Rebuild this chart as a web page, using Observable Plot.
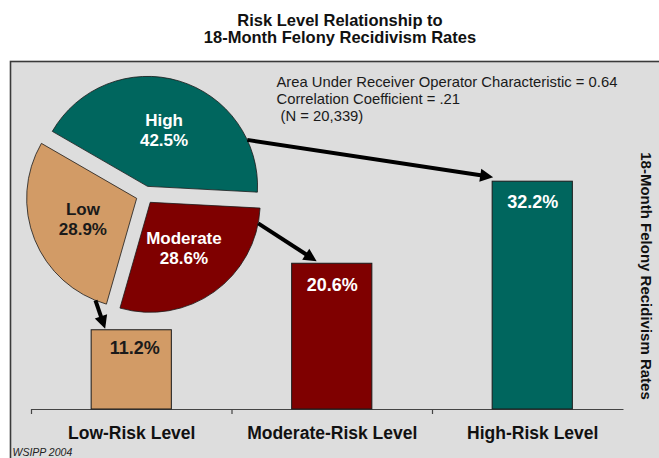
<!DOCTYPE html>
<html><head><meta charset="utf-8">
<script src="https://cdn.jsdelivr.net/npm/d3@7"></script>
<script src="https://cdn.jsdelivr.net/npm/@observablehq/plot@0.6"></script>
<style>
html,body{margin:0;padding:0;background:#fff;}
body{font-family:"Liberation Sans",Arial,Helvetica,sans-serif;width:659px;height:458px;overflow:hidden;}
#title{height:58px;box-sizing:border-box;padding-top:12px;padding-left:21px;text-align:center;font-weight:bold;font-size:16.5px;line-height:17px;color:#111;}
#chart svg{display:block;}
</style></head><body>
<div id="title"></div>
<div id="chart"></div>
<script>
// ---- data ----
const titleLines = ["Risk Level Relationship to", "18-Month Felony Recidivism Rates"];
const levels = ["Low", "Moderate", "High"];
const levelAxisLabels = ["Low-Risk Level", "Moderate-Risk Level", "High-Risk Level"];
const recidivismRates = [11.2, 20.6, 32.2];
const pieOrder = ["High", "Moderate", "Low"];
const pieShares = [42.5, 28.6, 28.9];
const levelColors = ["#d29b66", "#7f0000", "#00665e"];
const darkLabelLevels = ["Low"];
const noteLines = ["Area Under Receiver Operator Characteristic = 0.64", "Correlation Coefficient = .21", " (N = 20,339)"];
const yTitle = "18-Month Felony Recidivism Rates";
const sourceNote = "WSIPP 2004";
const xTicks = [0, 1, 2];

// ---- layout (not data) ----
const L = {
  width: 659, height: 400,
  marginLeft: 31, marginRight: 26.5, marginTop: 68, marginBottom: 49,
  barPad: 0.3,
  axisEnd: 2.955,
  pie: {cx: 145, cy: 137, r: 110, explode: 9, startDeg: -60, labelR: 58},
  arrows: {
    High: {fromDeg: 65, tipDx: 1, tipDy: -4},
    Moderate: {fromDeg: 101, tipDx: 25, tipDy: -2},
    Low: {fromDeg: 202, tipDx: 14, tipDy: -1}
  },
  head: {len: 13, half: 6.5}, arrowWidth: 4
};

document.getElementById("title").innerHTML = titleLines.join("<br>");

const bars = levels.map((level, i) => ({level, i, rate: recidivismRates[i], axisLabel: levelAxisLabels[i]}));
const slices = pieOrder.map((level, j) => ({level, share: pieShares[j]}));
const colorOf = lv => levelColors[levels.indexOf(lv)];
const rad = d => d * Math.PI / 180;

function pieAndArrows(index, scales) {
  const {x, y} = scales;
  const g = d3.create("svg:g");
  const P = L.pie;
  const pie = d3.pie().sort(null).value(d => d.share)
    .startAngle(rad(P.startDeg)).endAngle(rad(P.startDeg + 360));
  const arc = d3.arc().innerRadius(0).outerRadius(P.r);
  const apex = {};
  for (const a of pie(slices)) {
    const mid = (a.startAngle + a.endAngle) / 2;
    const ax = P.cx + Math.sin(mid) * P.explode, ay = P.cy - Math.cos(mid) * P.explode;
    apex[a.data.level] = [ax, ay];
    g.append("path").attr("transform", `translate(${ax},${ay})`).attr("d", arc(a))
      .attr("fill", colorOf(a.data.level)).attr("stroke", "#1a1a1a").attr("stroke-width", 0.8);
    const lx = ax + Math.sin(mid) * P.labelR, ly = ay - Math.cos(mid) * P.labelR;
    const t = g.append("text").attr("text-anchor", "middle").attr("font-size", 17).attr("font-weight", "bold")
      .attr("fill", darkLabelLevels.includes(a.data.level) ? "#1a1a1a" : "#fff");
    t.append("tspan").attr("x", lx).attr("y", ly - 11).attr("dy", "0.35em").text(a.data.level);
    t.append("tspan").attr("x", lx).attr("y", ly + 9).attr("dy", "0.35em").text(a.data.share.toFixed(1) + "%");
  }
  for (const b of bars) {
    const A = L.arrows[b.level];
    const [ax, ay] = apex[b.level];
    const th = rad(A.fromDeg);
    const p0 = [ax + Math.sin(th) * P.r, ay - Math.cos(th) * P.r];
    const p1 = [x(b.i + L.barPad) + A.tipDx, y(b.rate) + A.tipDy];
    const dx = p1[0] - p0[0], dy = p1[1] - p0[1], len = Math.hypot(dx, dy);
    const ux = dx / len, uy = dy / len, px = -uy, py = ux;
    const bx = p1[0] - ux * L.head.len, by = p1[1] - uy * L.head.len;
    g.append("line").attr("x1", p0[0]).attr("y1", p0[1]).attr("x2", bx + ux * 2).attr("y2", by + uy * 2)
      .attr("stroke", "#000").attr("stroke-width", L.arrowWidth);
    g.append("path").attr("d", `M${p1[0]},${p1[1]}L${bx + px * L.head.half},${by + py * L.head.half}L${bx - px * L.head.half},${by - py * L.head.half}Z`)
      .attr("fill", "#000");
  }
  return g.node();
}

const chart = Plot.plot({
  width: L.width, height: L.height,
  marginLeft: L.marginLeft, marginRight: L.marginRight, marginTop: L.marginTop, marginBottom: L.marginBottom,
  x: {domain: [0, 3], axis: null},
  y: {domain: [0, 40], axis: null},
  color: {domain: levels, range: levelColors},
  style: {fontFamily: '"Liberation Sans", Arial, Helvetica, sans-serif', background: "transparent", overflow: "visible"},
  marks: [
    Plot.frame({fill: "#dddddd", stroke: "#3a3a3a", strokeWidth: 1.6,
      insetLeft: -21, insetTop: -65, insetRight: -40, insetBottom: -60}),
    Plot.ruleY([0], {x1: 0, x2: L.axisEnd, stroke: "#444", strokeWidth: 1.2}),
    Plot.axisX({ticks: xTicks, tickFormat: () => "", tickSize: 5, stroke: "#444", strokeWidth: 1.2}),
    Plot.rectY(bars, {x1: d => d.i + L.barPad, x2: d => d.i + 1 - L.barPad, y1: 0, y2: "rate",
      fill: "level", stroke: "#1a1a1a", strokeWidth: 1}),
    Plot.text(bars, {filter: d => darkLabelLevels.includes(d.level), x: d => d.i + 0.5, y: "rate",
      text: d => d.rate.toFixed(1) + "%", dy: 18, dx: 3, fill: "#1a1a1a", fontSize: 18, fontWeight: "bold"}),
    Plot.text(bars, {filter: d => !darkLabelLevels.includes(d.level), x: d => d.i + 0.5, y: "rate",
      text: d => d.rate.toFixed(1) + "%", dy: 21, fill: "#ffffff", fontSize: 18, fontWeight: "bold"}),
    Plot.text(bars, {x: d => d.i + 0.5, y: 0, text: "axisLabel", dy: 24, fill: "#111",
      fontSize: 17.5, fontWeight: "bold"}),
    Plot.text([noteLines.join("\n")], {text: d => d, frameAnchor: "top-left", dx: 245, dy: -52,
      lineAnchor: "top", textAnchor: "start", fontSize: 14.8, lineHeight: 1.15, fill: "#1a1a1a"}),
    Plot.text([yTitle], {text: d => d, frameAnchor: "right", rotate: 90, textAnchor: "middle", dx: 13, dy: 8,
      fontSize: 15, fontWeight: "bold", fill: "#111"}),
    Plot.text([sourceNote], {text: d => d, frameAnchor: "bottom-left", dx: -19, dy: 46.6,
      textAnchor: "start", fontSize: 10.5, fontStyle: "italic", fill: "#222"}),
    pieAndArrows
  ]
});
document.getElementById("chart").append(chart);
</script>
</body></html>
